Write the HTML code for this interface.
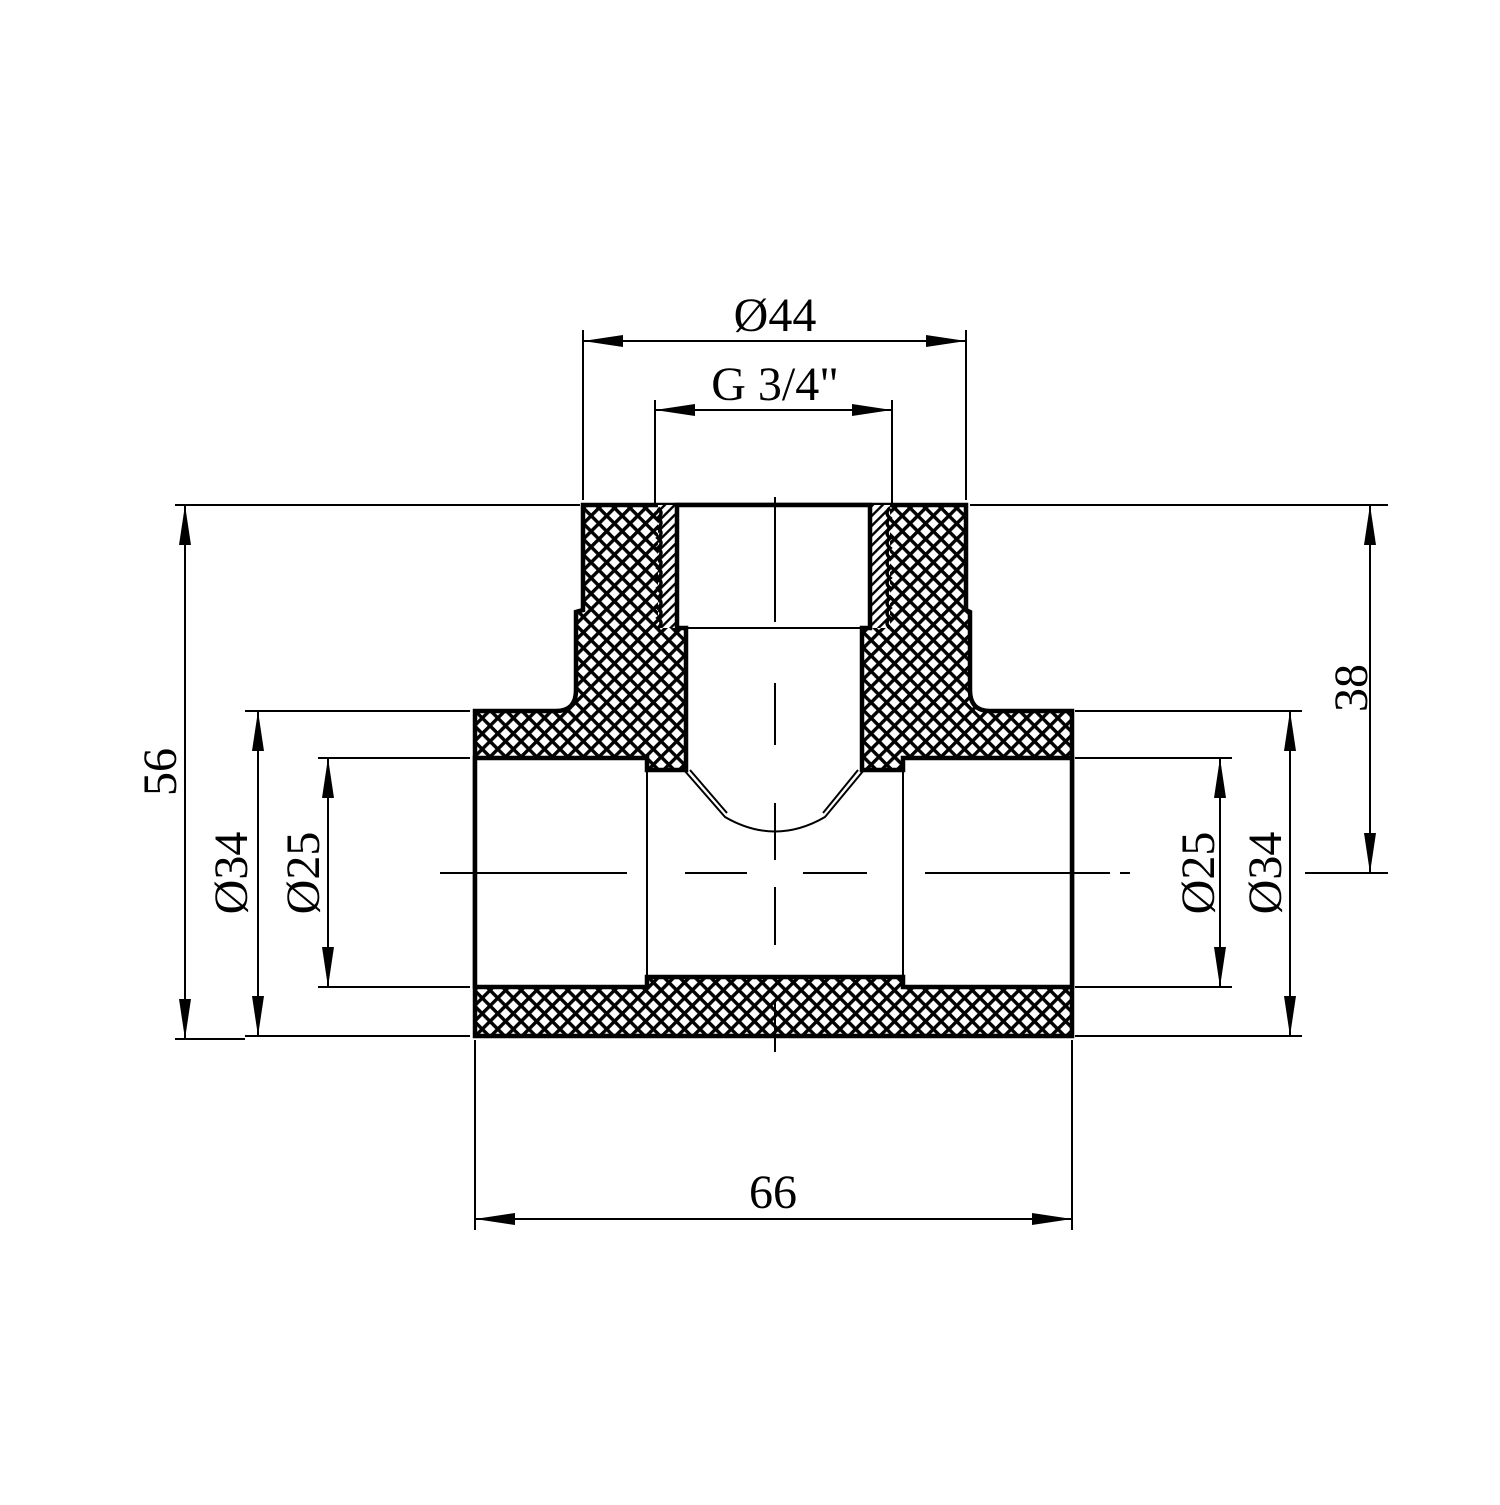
<!DOCTYPE html>
<html><head><meta charset="utf-8"><style>html,body{margin:0;padding:0;background:#fff}</style></head>
<body>
<svg width="1500" height="1500" viewBox="0 0 1500 1500" xmlns="http://www.w3.org/2000/svg">
<defs>
<pattern id="x" width="11" height="11" patternUnits="userSpaceOnUse" patternTransform="rotate(45)">
<rect width="11" height="11" fill="#fff"/>
<rect x="0" y="0" width="11" height="3.4" fill="#000"/>
<rect x="0" y="0" width="3.4" height="11" fill="#000"/>
</pattern>
<pattern id="d" width="7" height="7" patternUnits="userSpaceOnUse" patternTransform="rotate(45)">
<rect width="7" height="7" fill="#fff"/>
<rect x="0" y="0" width="2.4" height="7" fill="#000"/>
</pattern>
<marker id="a" viewBox="0 0 40 12" refX="40" refY="6" markerWidth="40" markerHeight="12" markerUnits="userSpaceOnUse" orient="auto-start-reverse">
<path d="M0,0 L40,6 L0,12 z" fill="#000"/>
</marker>
</defs>
<g stroke="#000" stroke-width="2" fill="none">
<line x1="583" y1="330" x2="583" y2="500"/>
<line x1="966" y1="330" x2="966" y2="500"/>
<line x1="655" y1="400" x2="655" y2="505"/>
<line x1="892" y1="400" x2="892" y2="505"/>
<line x1="175" y1="505" x2="580" y2="505"/>
<line x1="970" y1="505" x2="1388" y2="505"/>
<line x1="245" y1="711" x2="470" y2="711"/>
<line x1="1075" y1="711" x2="1302" y2="711"/>
<line x1="318" y1="758" x2="470" y2="758"/>
<line x1="1075" y1="758" x2="1232" y2="758"/>
<line x1="318" y1="987" x2="470" y2="987"/>
<line x1="1075" y1="987" x2="1232" y2="987"/>
<line x1="175" y1="1039" x2="245" y2="1039"/>
<line x1="245" y1="1036" x2="470" y2="1036"/>
<line x1="1075" y1="1036" x2="1302" y2="1036"/>
<line x1="1305" y1="873" x2="1388" y2="873"/>
<line x1="475" y1="1040" x2="475" y2="1230"/>
<line x1="1072" y1="1040" x2="1072" y2="1230"/>
<line x1="583" y1="341" x2="966" y2="341" marker-start="url(#a)" marker-end="url(#a)"/>
<line x1="655" y1="410" x2="892" y2="410" marker-start="url(#a)" marker-end="url(#a)"/>
<line x1="475" y1="1219" x2="1072" y2="1219" marker-start="url(#a)" marker-end="url(#a)"/>
<line x1="185" y1="505" x2="185" y2="1039" marker-start="url(#a)" marker-end="url(#a)"/>
<line x1="258" y1="711" x2="258" y2="1036" marker-start="url(#a)" marker-end="url(#a)"/>
<line x1="328" y1="758" x2="328" y2="987" marker-start="url(#a)" marker-end="url(#a)"/>
<line x1="1370" y1="505" x2="1370" y2="873" marker-start="url(#a)" marker-end="url(#a)"/>
<line x1="1290" y1="711" x2="1290" y2="1036" marker-start="url(#a)" marker-end="url(#a)"/>
<line x1="1220" y1="758" x2="1220" y2="987" marker-start="url(#a)" marker-end="url(#a)"/>
</g>
<path d="M583,505 L966,505 L966,610 L970,612 L970,690 Q970,711 990,711 L1072,711 L1072,1036 L475,1036 L475,711 L556,711 Q576,711 576,690 L576,612 L583,610 Z" fill="url(#x)" stroke="#000" stroke-width="4.5"/>
<rect x="658" y="505" width="19" height="123" fill="url(#d)"/>
<rect x="870" y="505" width="20" height="123" fill="url(#d)"/>
<path d="M658,508 q6,5 0,10 q6,5 0,10 q6,5 0,10 q6,5 0,10 q6,5 0,10 q6,5 0,10 q6,5 0,10 q6,5 0,10 q6,5 0,10 q6,5 0,10 q6,5 0,10 q6,5 0,10" fill="none" stroke="#000" stroke-width="3.5"/>
<path d="M890,508 q-6,5 0,10 q-6,5 0,10 q-6,5 0,10 q-6,5 0,10 q-6,5 0,10 q-6,5 0,10 q-6,5 0,10 q-6,5 0,10 q-6,5 0,10 q-6,5 0,10 q-6,5 0,10 q-6,5 0,10" fill="none" stroke="#000" stroke-width="3.5"/>
<path d="M475,758 L647,758 L647,770 L686,770 L686,628 L677,628 L677,505 L870,505 L870,628 L862,628 L862,770 L903,770 L903,758 L1072,758 L1072,987 L903,987 L903,977 L647,977 L647,987 L475,987 Z" fill="#fff" stroke="#000" stroke-width="4.5"/>
<g stroke="#000" stroke-width="2" fill="none">
<line x1="475" y1="758" x2="475" y2="987"/>
<line x1="1072" y1="758" x2="1072" y2="987"/>
<line x1="647" y1="770" x2="647" y2="977"/>
<line x1="903" y1="770" x2="903" y2="977"/>
<line x1="686" y1="628" x2="862" y2="628"/>
<path d="M684,770 L725,817 Q775,846 825,817 L864,770"/>
<path d="M690,770 L727,813"/>
<path d="M858,770 L823,813"/>
<path d="M775,497 V622 M775,683 V745 M775,803 V860 M775,887 V945 M775,1000 V1052" />
<path d="M440,873 H627 M685,873 H747 M803,873 H867 M925,873 H1110 M1120,873 H1130"/>
</g>
<g font-family="Liberation Serif, serif" font-size="48" fill="#000" text-anchor="middle">
<text x="775" y="331">Ø44</text>
<text x="775" y="400">G 3/4"</text>
<text x="773" y="1208">66</text>
<text transform="translate(176,772) rotate(-90)">56</text>
<text transform="translate(247,873) rotate(-90)">Ø34</text>
<text transform="translate(319,873) rotate(-90)">Ø25</text>
<text transform="translate(1367,688) rotate(-90)">38</text>
<text transform="translate(1214,873) rotate(-90)">Ø25</text>
<text transform="translate(1281,873) rotate(-90)">Ø34</text>
</g>
</svg>
</body></html>
